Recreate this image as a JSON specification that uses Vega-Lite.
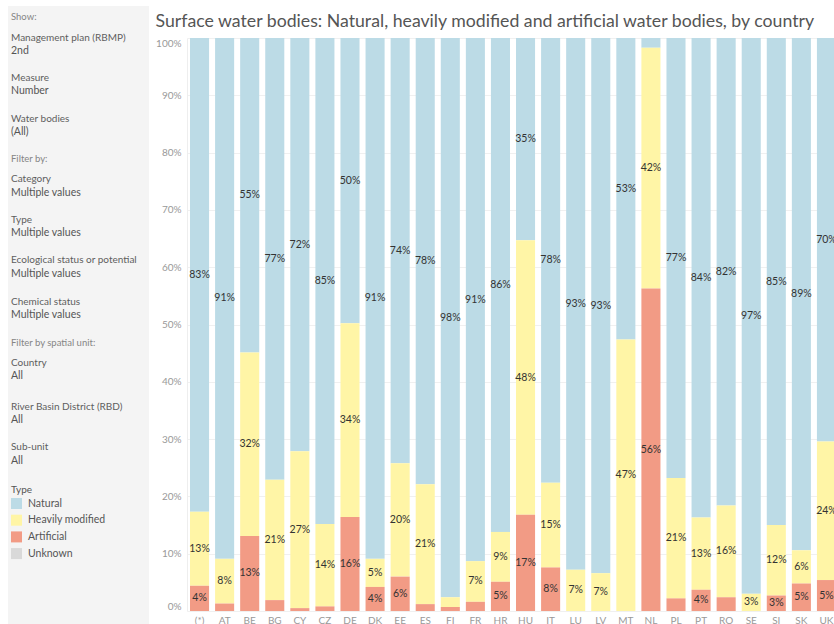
{
  "$schema": "https://vega.github.io/schema/vega-lite/v6.json",
  "padding": {"left": 8, "top": 6, "right": 0, "bottom": 0},
  "background": "white",
  "config": {
    "view": {"stroke": null},
    "font": "Lato",
    "concat": {"spacing": 6}
  },
  "datasets": {
    "panel": [
      {"text": "Show:", "line": 0.81, "kind": "section"},
      {"text": "Management plan (RBMP)", "line": 2.37, "kind": "head"},
      {"text": "2nd", "line": 3.33, "kind": "value"},
      {"text": "Measure", "line": 5.33, "kind": "head"},
      {"text": "Number", "line": 6.3, "kind": "value"},
      {"text": "Water bodies", "line": 8.37, "kind": "head"},
      {"text": "(All)", "line": 9.33, "kind": "value"},
      {"text": "Filter by:", "line": 11.33, "kind": "section"},
      {"text": "Category", "line": 12.81, "kind": "head"},
      {"text": "Multiple values", "line": 13.85, "kind": "value"},
      {"text": "Type", "line": 15.85, "kind": "head"},
      {"text": "Multiple values", "line": 16.81, "kind": "value"},
      {"text": "Ecological status or potential", "line": 18.81, "kind": "head"},
      {"text": "Multiple values", "line": 19.85, "kind": "value"},
      {"text": "Chemical status", "line": 21.93, "kind": "head"},
      {"text": "Multiple values", "line": 22.89, "kind": "value"},
      {"text": "Filter by spatial unit:", "line": 24.96, "kind": "section"},
      {"text": "Country", "line": 26.44, "kind": "head"},
      {"text": "All", "line": 27.41, "kind": "value"},
      {"text": "River Basin District (RBD)", "line": 29.7, "kind": "head"},
      {"text": "All", "line": 30.67, "kind": "value"},
      {"text": "Sub-unit", "line": 32.67, "kind": "head"},
      {"text": "All", "line": 33.7, "kind": "value"}
    ],
    "bars": [
      {"country": "(*)", "type": "Natural", "share": 0.827},
      {"country": "(*)", "type": "Heavily modified", "share": 0.129},
      {"country": "(*)", "type": "Artificial", "share": 0.044},
      {"country": "AT", "type": "Natural", "share": 0.909},
      {"country": "AT", "type": "Heavily modified", "share": 0.078},
      {"country": "AT", "type": "Artificial", "share": 0.013},
      {"country": "BE", "type": "Natural", "share": 0.549},
      {"country": "BE", "type": "Heavily modified", "share": 0.32},
      {"country": "BE", "type": "Artificial", "share": 0.131},
      {"country": "BG", "type": "Natural", "share": 0.771},
      {"country": "BG", "type": "Heavily modified", "share": 0.21},
      {"country": "BG", "type": "Artificial", "share": 0.019},
      {"country": "CY", "type": "Natural", "share": 0.721},
      {"country": "CY", "type": "Heavily modified", "share": 0.274},
      {"country": "CY", "type": "Artificial", "share": 0.005},
      {"country": "CZ", "type": "Natural", "share": 0.848},
      {"country": "CZ", "type": "Heavily modified", "share": 0.144},
      {"country": "CZ", "type": "Artificial", "share": 0.008},
      {"country": "DE", "type": "Natural", "share": 0.498},
      {"country": "DE", "type": "Heavily modified", "share": 0.338},
      {"country": "DE", "type": "Artificial", "share": 0.164},
      {"country": "DK", "type": "Natural", "share": 0.909},
      {"country": "DK", "type": "Heavily modified", "share": 0.049},
      {"country": "DK", "type": "Artificial", "share": 0.042},
      {"country": "EE", "type": "Natural", "share": 0.742},
      {"country": "EE", "type": "Heavily modified", "share": 0.198},
      {"country": "EE", "type": "Artificial", "share": 0.06},
      {"country": "ES", "type": "Natural", "share": 0.779},
      {"country": "ES", "type": "Heavily modified", "share": 0.209},
      {"country": "ES", "type": "Artificial", "share": 0.012},
      {"country": "FI", "type": "Natural", "share": 0.976},
      {"country": "FI", "type": "Heavily modified", "share": 0.017},
      {"country": "FI", "type": "Artificial", "share": 0.007},
      {"country": "FR", "type": "Natural", "share": 0.913},
      {"country": "FR", "type": "Heavily modified", "share": 0.071},
      {"country": "FR", "type": "Artificial", "share": 0.016},
      {"country": "HR", "type": "Natural", "share": 0.862},
      {"country": "HR", "type": "Heavily modified", "share": 0.087},
      {"country": "HR", "type": "Artificial", "share": 0.051},
      {"country": "HU", "type": "Natural", "share": 0.353},
      {"country": "HU", "type": "Heavily modified", "share": 0.479},
      {"country": "HU", "type": "Artificial", "share": 0.168},
      {"country": "IT", "type": "Natural", "share": 0.776},
      {"country": "IT", "type": "Heavily modified", "share": 0.148},
      {"country": "IT", "type": "Artificial", "share": 0.076},
      {"country": "LU", "type": "Natural", "share": 0.928},
      {"country": "LU", "type": "Heavily modified", "share": 0.072},
      {"country": "LV", "type": "Natural", "share": 0.934},
      {"country": "LV", "type": "Heavily modified", "share": 0.066},
      {"country": "MT", "type": "Natural", "share": 0.526},
      {"country": "MT", "type": "Heavily modified", "share": 0.474},
      {"country": "NL", "type": "Natural", "share": 0.017},
      {"country": "NL", "type": "Heavily modified", "share": 0.42},
      {"country": "NL", "type": "Artificial", "share": 0.563},
      {"country": "PL", "type": "Natural", "share": 0.768},
      {"country": "PL", "type": "Heavily modified", "share": 0.21},
      {"country": "PL", "type": "Artificial", "share": 0.022},
      {"country": "PT", "type": "Natural", "share": 0.837},
      {"country": "PT", "type": "Heavily modified", "share": 0.126},
      {"country": "PT", "type": "Artificial", "share": 0.037},
      {"country": "RO", "type": "Natural", "share": 0.816},
      {"country": "RO", "type": "Heavily modified", "share": 0.16},
      {"country": "RO", "type": "Artificial", "share": 0.024},
      {"country": "SE", "type": "Natural", "share": 0.97},
      {"country": "SE", "type": "Heavily modified", "share": 0.03},
      {"country": "SI", "type": "Natural", "share": 0.85},
      {"country": "SI", "type": "Heavily modified", "share": 0.123},
      {"country": "SI", "type": "Artificial", "share": 0.027},
      {"country": "SK", "type": "Natural", "share": 0.894},
      {"country": "SK", "type": "Heavily modified", "share": 0.058},
      {"country": "SK", "type": "Artificial", "share": 0.048},
      {"country": "UK", "type": "Natural", "share": 0.704},
      {"country": "UK", "type": "Heavily modified", "share": 0.242},
      {"country": "UK", "type": "Artificial", "share": 0.054}
    ]
  },
  "hconcat": [
    {
      "width": 141,
      "height": 586,
      "data": {"name": "panel"},
      "encoding": {
        "y": {"field": "line", "type": "quantitative", "scale": {"domain": [2.37, 45.78], "reverse": true, "nice": false, "zero": false}, "axis": null}
      },
      "layer": [
        {
          "data": {"values": [{"top": 0, "bottom": 45.78}]},
          "mark": {"type": "rect", "color": "#f4f4f4"},
          "encoding": {
            "y": {"field": "top", "type": "quantitative"},
            "y2": {"field": "bottom"}
          }
        },
        {
          "mark": {"type": "text", "align": "left", "baseline": "middle", "x": 3, "fontWeight": "normal"},
          "encoding": {
            "text": {"field": "text"},
            "color": {"condition": [{"test": "datum.kind === 'section'", "value": "#858585"}, {"test": "datum.kind === 'value'", "value": "#555555"}], "value": "#5e5e5e"},
            "size": {"condition": [{"test": "datum.kind === 'section'", "value": 9.5}, {"test": "datum.kind === 'value'", "value": 10.5}], "value": 10}
          }
        }
      ]
    },
    {
      "width": 652,
      "height": 573,
      "title": {"text": "Surface water bodies: Natural, heavily modified and artificial water bodies, by country",
        "anchor": "start", "frame": "bounds", "font": "Lato", "fontSize": 17.7, "fontWeight": "normal", "color": "#555555", "offset": 7},
      "data": {"name": "bars"},
      "encoding": {
        "x": {"field": "country", "type": "nominal", "sort": null,
          "scale": {"paddingInner": 0.24, "paddingOuter": 0.12},
          "axis": {"title": null, "labelAngle": 0, "labelColor": "#999999", "labelFontSize": 10, "ticks": false, "domain": false, "labelPadding": 4}},
        "y": {"field": "share", "type": "quantitative", "stack": "normalize",
          "scale": {"domain": [0, 1], "nice": false},
          "axis": {"title": null, "format": ".0%", "values": [0, 0.1, 0.2, 0.3, 0.4, 0.5, 0.6, 0.7, 0.8, 0.9, 1],
            "labelColor": "#999999", "labelFontSize": 10, "ticks": false, "domain": true, "domainColor": "#eeeeee",
            "gridColor": "#f0f0f0", "labelFlush": true, "labelPadding": 6}},
        "order": {"field": "type", "type": "nominal", "sort": "ascending"}
      },
      "layer": [
        {
          "mark": {"type": "bar"},
          "encoding": {
            "color": {"field": "type", "type": "nominal",
              "scale": {"domain": ["Natural", "Heavily modified", "Artificial", "Unknown"], "range": ["#bcdbe6", "#fff5a6", "#f29b85", "#d9d9d9"]},
              "legend": {"orient": "none", "legendX": 3, "legendY": 447, "title": "Type", "titleFont": "Lato", "titleFontSize": 10, "titleFontWeight": "normal", "titleColor": "#555555",
                "labelFont": "Lato", "labelFontSize": 10.5, "labelColor": "#555555", "labelOffset": 6, "symbolType": "square", "symbolSize": 121, "symbolStrokeWidth": 0, "symbolOpacity": 1, "rowPadding": 5.7, "titlePadding": 3}}
          }
        },
        {
          "mark": {"type": "text", "font": "Lato", "fontSize": 10.5, "color": "#333333", "baseline": "middle"},
          "encoding": {
            "y": {"field": "share", "type": "quantitative", "stack": "normalize", "bandPosition": 0.5},
            "detail": {"field": "type", "type": "nominal"},
            "text": {"condition": {"test": "datum.share < 0.025", "value": ""}, "field": "share", "type": "quantitative", "format": ".0%"}
          }
        }
      ]
    }
  ]
}
